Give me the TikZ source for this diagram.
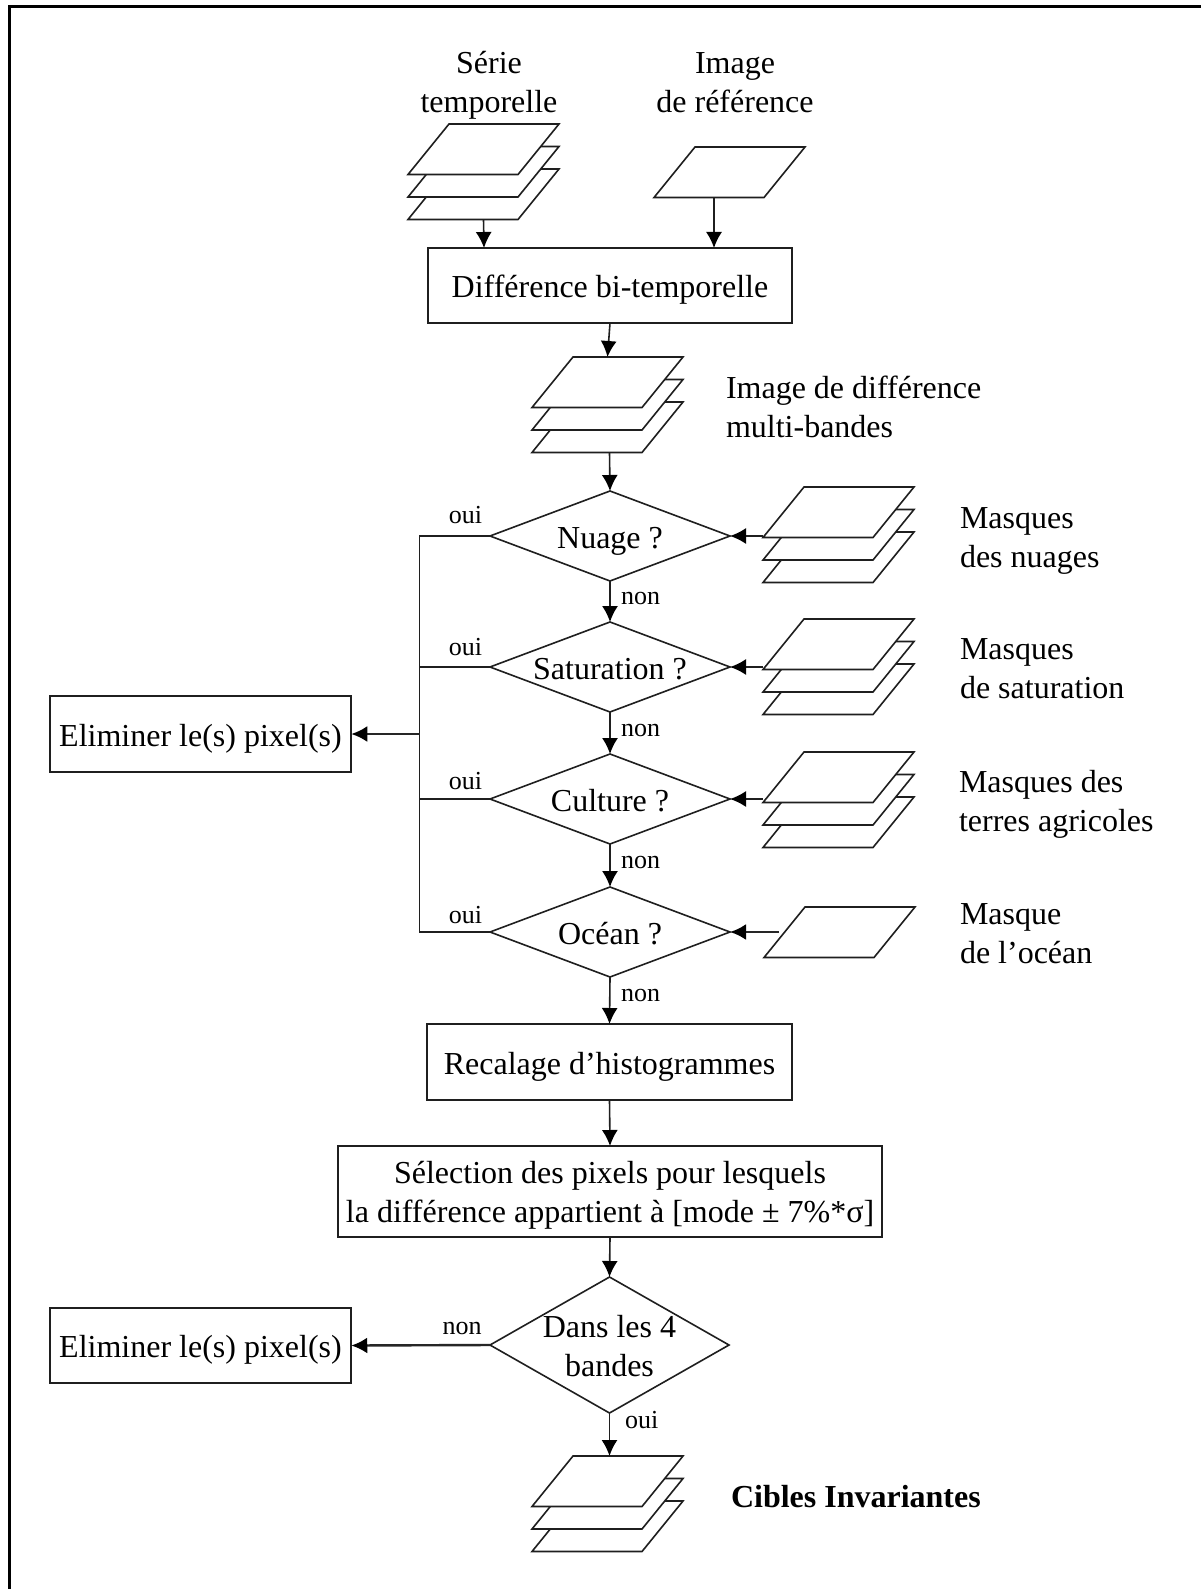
\documentclass[tikz,border=0pt]{standalone}
\usepackage{fontspec}
\setmainfont{Liberation Serif}
\usetikzlibrary{arrows.meta,shapes.geometric}
\tikzset{
  x=1pt,y=-1pt,
  ln/.style={line width=1.6pt,draw=black!88},
  arr/.style={ln,-{Latex[length=16pt,width=16pt,black]}},
  arrh/.style={line width=2.4pt,draw=black!85,-{Latex[length=16pt,width=16pt,black]}},
  txt/.style={font=\fontsize{32}{39}\selectfont,inner sep=0pt,outer sep=0pt,text=black},
  small/.style={font=\fontsize{26}{27}\selectfont,inner sep=0pt,outer sep=0pt,text=black},
  boxn/.style={txt,ln,fill=white,rectangle,outer sep=0pt,text height=24.5pt,text depth=0pt},
  dec/.style={diamond,ln,fill=white,txt,aspect=2.667,minimum width=240pt,minimum height=90pt,text height=24pt,text depth=0pt},
  layer/.style={trapezium,ln,fill=white,inner sep=1pt,outer sep=0pt,trapezium stretches=true,
     trapezium left angle=59.3,trapezium right angle=120.7,minimum width=151pt,minimum height=50.5pt},
}
\newcommand{\onelayer}[3]{\node[layer] (#1) at (#2+75.5,#3+25.25) {};}
\newcommand{\threelayers}[3]{%
  \onelayer{#1c}{#2}{#3+45}\onelayer{#1b}{#2}{#3+22.5}\onelayer{#1a}{#2}{#3}}
\begin{document}
\begin{tikzpicture}
\useasboundingbox (0,0) rectangle (1201,1589);
\fill[white] (0,0) rectangle (1201,1589);
\coordinate (fl) at (9,1589);
\coordinate (fc) at (9,6.7);
\coordinate (fr) at (1201,6.7);
\draw[line width=3pt,black] (fl) -- (fc) -- (fr);

% labels
\node[txt,align=center,anchor=base] (lserie) at (489,113) {Série\\temporelle};
\node[txt,align=center,anchor=base] (lref) at (735,113) {Image\\de référence};
\node[txt,align=left,anchor=base west] (ldiff) at (726,437) {Image de différence\\multi-bandes};
\node[txt,align=left,anchor=base west] (lnua) at (960,567) {Masques\\des nuages};
\node[txt,align=left,anchor=base west] (lsat) at (960,698) {Masques\\de saturation};
\node[txt,align=left,anchor=base west] (lter) at (959,831) {Masques des\\terres agricoles};
\node[txt,align=left,anchor=base west] (locn) at (960,963) {Masque\\de l’océan};
\node[txt,anchor=base west,font=\fontsize{32}{39}\selectfont\bfseries] (lcib) at (731,1507) {Cibles Invariantes};

% layers
\threelayers{ts}{408}{124}
\onelayer{re}{654}{147}
\threelayers{di}{532}{357}
\threelayers{mn}{763}{487}
\threelayers{ms}{763}{619}
\threelayers{mt}{763}{752}
\onelayer{mo}{764}{907}
\threelayers{ci}{532}{1456}

% boxes
\node[boxn,minimum width=364pt,minimum height=75pt] (bt) at (610,285.5) {Différence bi-temporelle};
\node[boxn,minimum width=365pt,minimum height=76pt] (rh) at (609.5,1062) {Recalage d’histogrammes};
\node[boxn,minimum width=544pt,minimum height=91pt,align=center,text height=61pt,text depth=0pt] (sel) at (610,1191.5) {Sélection des pixels pour lesquels\\la différence appartient à [mode ± 7\%*σ]};
\node[boxn,minimum width=301.5pt,minimum height=76pt] (e1) at (200.5,734) {Eliminer le(s) pixel(s)};
\node[boxn,minimum width=301.5pt,minimum height=75pt] (e2) at (200.5,1345.5) {Eliminer le(s) pixel(s)};

% decisions
\node[dec] (d1) at (610,536) {Nuage ?};
\node[dec] (d2) at (610,667) {Saturation ?};
\node[dec] (d3) at (610,799) {Culture ?};
\node[dec] (d4) at (610,932) {Océan ?};
\node[dec,minimum height=136pt,minimum width=239pt,aspect=1.757,align=center,text width=1pt,text height=8pt,text depth=24pt] (d5) at (609.5,1345) {\makebox[0pt]{\spaceskip=.25em Dans les 4}\\\makebox[0pt]{bandes}};

% connectors
\draw[arr] (tsc.south) -- ([xshift=-126pt]bt.north);
\draw[arr] ([xshift=-15.5pt]re.south) -- ([xshift=104pt]bt.north);
\draw[arr] (bt.south) -- (dia.north);
\draw[arr] ([xshift=2pt]dic.south) -- (d1.north);
\draw[arr] (d1.south) -- (d2.north);
\draw[arr] (d2.south) -- (d3.north);
\draw[arr] (d3.south) -- (d4.north);
\draw[arr] (d4.south) -- (rh.north);
\draw[arr] (rh.south) -- (sel.north);
\draw[arr] (sel.south) -- (d5.north);
\draw[arr] (d5.south) -- ([xshift=2pt]cia.north);
\draw[arrh] (d5.west) -- (e2.east);
\draw[arr] (mna.bottom left corner |- d1.east) -- (d1.east);
\draw[arr] (msa.bottom left corner |- d2.east) -- (d2.east);
\draw[arr] (mta.bottom left corner |- d3.east) -- (d3.east);
\coordinate (moe) at (779,932);
\draw[arrh] (moe) -- (d4.east);
\coordinate (bust) at (419.5,536);
\coordinate (busb) at (419.5,932);
\coordinate (busm) at (419.5,734);
\draw[ln] (d1.west) -- (bust) -- (busb) -- (d4.west);
\draw[ln] (d2.west) -- (d2.west -| bust);
\draw[ln] (d3.west) -- (d3.west -| bust);
\draw[arrh] (busm) -- (e1.east);

% branch labels
\node[small,anchor=base] (o1) at (465.5,523) {oui};
\node[small,anchor=base] (o2) at (465.5,655) {oui};
\node[small,anchor=base] (o3) at (465.5,789) {oui};
\node[small,anchor=base] (o4) at (465.5,923) {oui};
\node[small,anchor=base west] (n1) at (621,604) {non};
\node[small,anchor=base west] (n2) at (621,736) {non};
\node[small,anchor=base west] (n3) at (621,868) {non};
\node[small,anchor=base west] (n4) at (621,1001) {non};
\node[small,anchor=base west] (n5) at (442.5,1334) {non};
\node[small,anchor=base west] (o5) at (625,1428) {oui};
\end{tikzpicture}
\end{document}
